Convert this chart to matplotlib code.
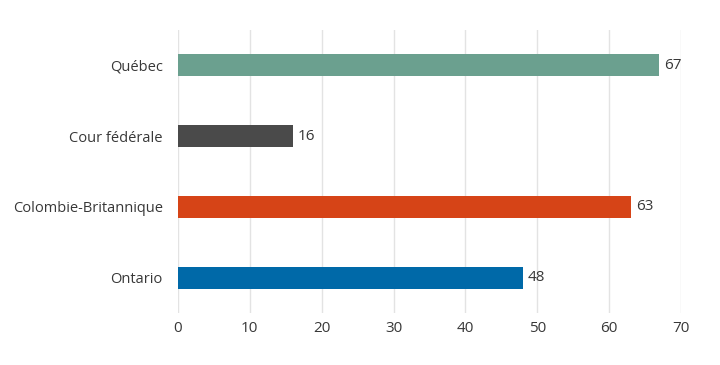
import matplotlib.pyplot as plt

categories = ['Ontario', 'Colombie-Britannique', 'Cour fédérale', 'Québec']
values = [48, 63, 16, 67]
colors = ['#0069a8', '#d64417', '#4a4a4a', '#6ba08f']
xticks = [0, 10, 20, 30, 40, 50, 60, 70]

plt.rcParams['font.family'] = ['Open Sans', 'DejaVu Sans']

fig = plt.figure(figsize=(7.2, 3.65), dpi=100)
ax = fig.add_axes([0.2472, 0.1425, 0.6986, 0.7753])

y = range(len(categories))
ax.barh(y, values, height=0.31, color=colors, zorder=3)
for yi, v in zip(y, values):
    ax.text(v + 0.7, yi, str(v), va='center', ha='left', fontsize=11, color='#383838')

ax.set_xlim(0, 70)
ax.set_ylim(-0.5, 3.5)
ax.set_yticks(list(y))
ax.set_yticklabels(categories, fontsize=10.5, color='#383838')
ax.set_xticks(xticks)
ax.set_xticklabels([str(t) for t in xticks], fontsize=11, color='#383838')
ax.tick_params(axis='x', length=0, pad=6)
ax.tick_params(axis='y', length=0, pad=11)
ax.grid(axis='x', color='#e3e3e3', linewidth=1, zorder=0)
for s in ax.spines.values():
    s.set_visible(False)

fig.savefig('out.png', dpi=100, facecolor='white')
